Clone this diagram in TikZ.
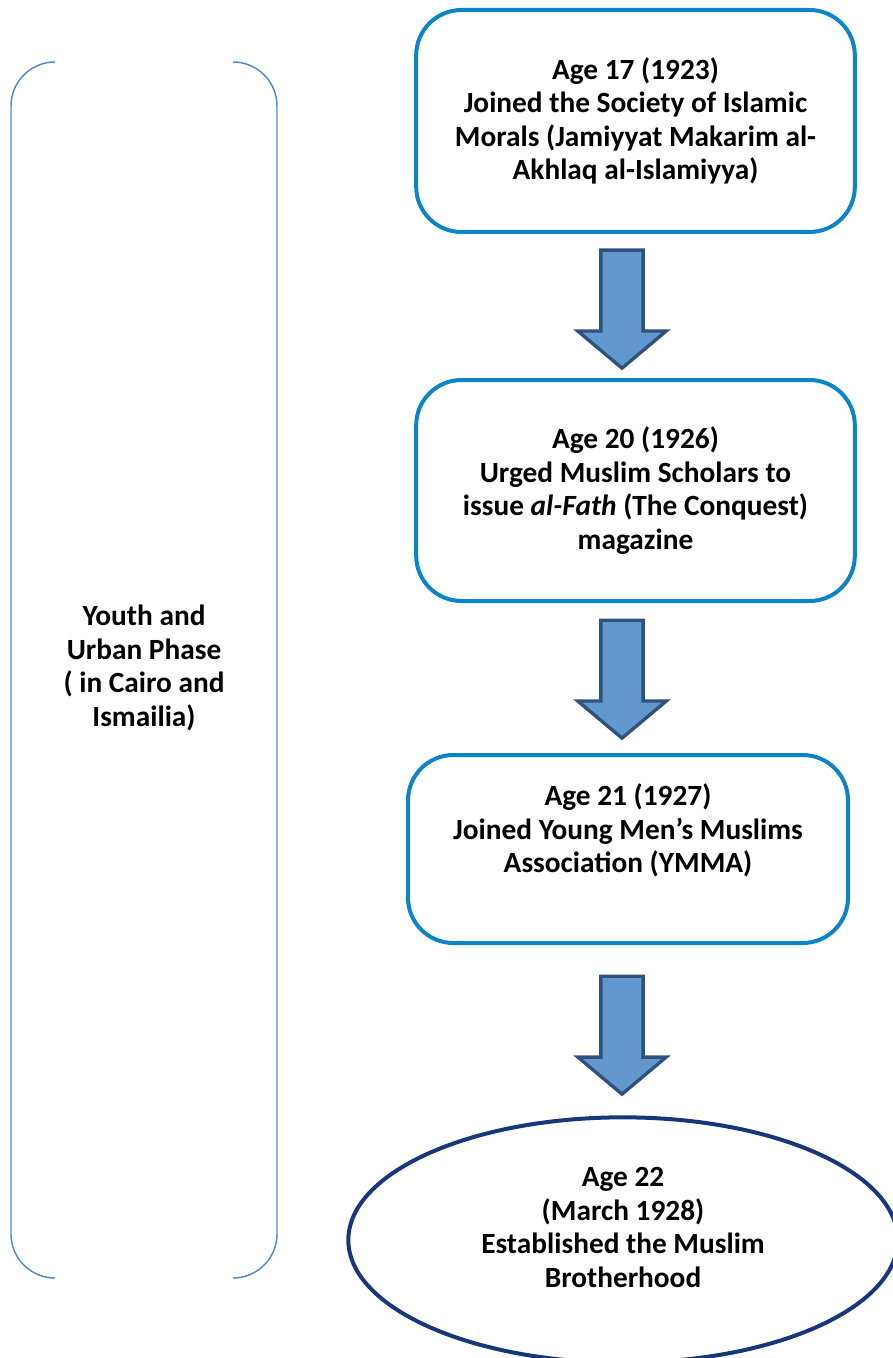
\documentclass[tikz,border=0pt]{standalone}
\usepackage{fontspec}
\setmainfont{Carlito}
\usetikzlibrary{shapes.geometric,shapes.arrows,positioning}
\definecolor{boxblue}{RGB}{12,132,200}
\definecolor{arrowfill}{RGB}{98,152,206}
\definecolor{arrowline}{RGB}{47,82,125}
\definecolor{ovalblue}{RGB}{24,54,122}
\definecolor{bracketblue}{RGB}{84,138,198}
\newcommand{\phasefont}{\fontsize{22}{25.2}\selectfont\bfseries}

\tikzset{
  stage/.style={draw=boxblue, line width=3pt, rounded corners=34pt,
    align=center, font=\phasefont, minimum width=329pt},
  downarrow/.style={single arrow, draw=arrowline, fill=arrowfill,
    line width=2.5pt, shape border rotate=270, inner xsep=14.6pt, inner ysep=0pt,
    minimum height=88.5pt, minimum width=64pt,
    single arrow head extend=17.3pt, single arrow tip angle=100, anchor=tail},
  goal/.style={ellipse, draw=ovalblue, line width=3pt, align=center,
    font=\phasefont, minimum width=412pt, minimum height=184pt, inner sep=0pt},
  bracket/.style={draw=bracketblue, line width=1.1pt, rounded corners=33pt}
}

\begin{document}
\begin{tikzpicture}[x=0.75pt, y=-0.75pt]
		\useasboundingbox (0,0) rectangle (892,1358);

		% Define nodes
		\node[stage, minimum height=166.5pt] (S1) at (635.5,121)
			{Age 17 (1923)\\Joined the Society of Islamic\\Morals (Jamiyyat Makarim al-\\Akhlaq al-Islamiyya)};
		\node[stage, minimum height=165.75pt] (S2) at (635.5,490.5)
			{Age 20 (1926)\\Urged Muslim Scholars to\\issue \textit{al-Fath} (The Conquest)\\magazine};
		\node[stage, minimum height=141pt, minimum width=330pt] (S3) at (628,849)
			{Age 21 (1927)\\Joined Young Men’s Muslims\\Association (YMMA)\\[6pt]\mbox{}};
		\node[goal] (MB) at (623,1240)
			{Age 22\\(March 1928)\\Established the Muslim\\Brotherhood\\[-6pt]\mbox{}};

		\node[align=center, font=\phasefont] (phase) at (144,668)
			{Youth and\\Urban Phase\\( in Cairo and\\Ismailia)};

		% Connect the nodes
		\node[downarrow] (A1) at (622,248.5) {};
		\node[downarrow] (A2) at (622,618.5) {};
		\node[downarrow] (A3) at (622,974.5) {};

		% Bracket
		\draw[bracket] (55,62) -| (11,1278) -- (55,1278);
		\draw[bracket] (233,62) -| (277,1278) -- (233,1278);

	\end{tikzpicture}
\end{document}
